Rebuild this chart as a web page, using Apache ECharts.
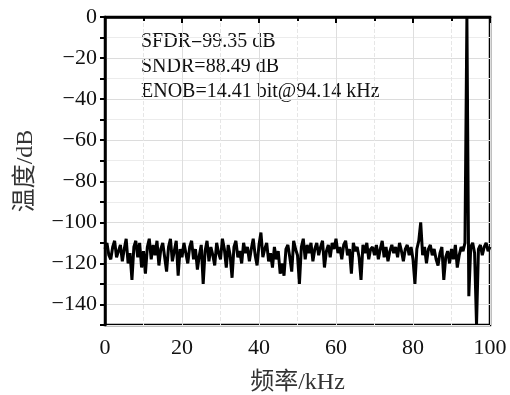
<!DOCTYPE html>
<html>
<head>
<meta charset="utf-8">
<script src="https://cdn.jsdelivr.net/npm/echarts@6/dist/echarts.min.js"></script>
<style>
  html, body { margin: 0; padding: 0; background: #fff; }
  #chart { width: 510px; height: 395px; }
</style>
</head>
<body>
<div id="chart"></div>
<script>
// FFT bins, 0.5 kHz apart, 0..100 kHz
const freqStep = 0.5;
const spectrum = [
  -113, -110, -116, -118, -112, -109, -117, -114, -111, -119,
  -113, -108, -120, -115, -128, -112, -109, -117, -110, -122,
  -114, -125, -112, -108, -118, -111, -116, -109, -121, -113,
  -110, -117, -124, -112, -108, -119, -114, -109, -126, -113,
  -117, -110, -115, -120, -112, -109, -118, -113, -123, -116,
  -111, -130, -114, -109, -119, -112, -116, -121, -110, -115,
  -118, -108, -113, -122, -111, -116, -127, -112, -109, -117,
  -114, -120, -110, -115, -112, -119, -113, -108, -116, -121,
  -111, -105, -117, -113, -110, -119, -115, -122, -112, -118,
  -114, -125, -120, -126, -113, -111, -117, -124, -109, -113,
  -116, -130, -112, -108, -118, -111, -115, -110, -119, -113,
  -110, -116, -112, -109, -122, -114, -111, -117, -110, -113,
  -108, -115, -112, -118, -111, -109, -116, -113, -125, -110,
  -114, -112, -117, -128, -111, -115, -110, -118, -113, -112,
  -116, -111, -118, -113, -109, -117, -112, -119, -114, -111,
  -115, -112, -117, -110, -114, -119, -113, -111, -116, -112,
  -118, -130, -113, -109, -100, -116, -112, -120, -113, -111,
  -116, -113, -118, -121, -115, -112, -128, -117, -114, -120,
  -113, -118, -111, -122, -116, -112, -114, -110, 0, -136,
  -112, -110, -115, -150, -113, -111, -116, -112, -110, -114,
  -112
];
const notes = [
  'SFDR=99.35 dB',
  'SNDR=88.49 dB',
  'ENOB=14.41 bit@94.14 kHz'
];

const serif = "'Liberation Serif', 'Noto Sans CJK SC', serif";
const points = spectrum.map((v, i) => [i * freqStep, v]);

const chart = echarts.init(document.getElementById('chart'));
chart.setOption({
  animation: false,
  grid: {
    left: 105, right: 20, top: 17, bottom: 70,
    outerBoundsMode: 'none', containLabel: false,
    show: true, borderColor: '#000', borderWidth: 2.5
  },
  xAxis: {
    type: 'value', min: 0, max: 100, interval: 20,
    name: '频率/kHz', nameLocation: 'middle', nameGap: 46,
    nameTextStyle: { fontFamily: serif, fontSize: 24, color: '#333' },
    axisLine: { lineStyle: { color: '#000', width: 2.5 } },
    axisTick: { inside: false, length: 6, lineStyle: { color: '#000', width: 2 } },
    minorTick: { show: true, splitNumber: 2, length: 4, lineStyle: { color: '#000', width: 2 } },
    axisLabel: { fontFamily: serif, fontSize: 22, color: '#111', margin: 12 },
    splitLine: { lineStyle: { color: '#dedede', width: 1 } },
    minorSplitLine: { show: true, lineStyle: { color: '#e6e6e6', type: 'dashed' } }
  },
  yAxis: {
    type: 'value', min: -150, max: 0, interval: 10,
    name: '温度/dB', nameLocation: 'middle', nameGap: 67,
    nameTextStyle: { fontFamily: serif, fontSize: 24, color: '#333' },
    axisLine: { lineStyle: { color: '#000', width: 2.5 } },
    axisTick: { inside: false, length: 5, lineStyle: { color: '#000', width: 2 } },
    axisLabel: {
      fontFamily: serif, fontSize: 22, color: '#111', margin: 8,
      formatter: v => (v % 20 === 0 ? String(v).replace('-', '\u2212') : '')
    },
    splitLine: { lineStyle: { color: ['#ececec', '#dcdcdc'], width: 1 } }
  },
  graphic: notes.map((t, i) => ({
    type: 'text', left: 141, top: 32 + i * 25,
    style: { text: t, fontFamily: serif, fontSize: 20, fill: '#111' }
  })),
  series: [{
    type: 'line',
    data: points,
    showSymbol: false,
    lineStyle: { color: '#000', width: 3 },
    clip: true
  }]
});
</script>
</body>
</html>
